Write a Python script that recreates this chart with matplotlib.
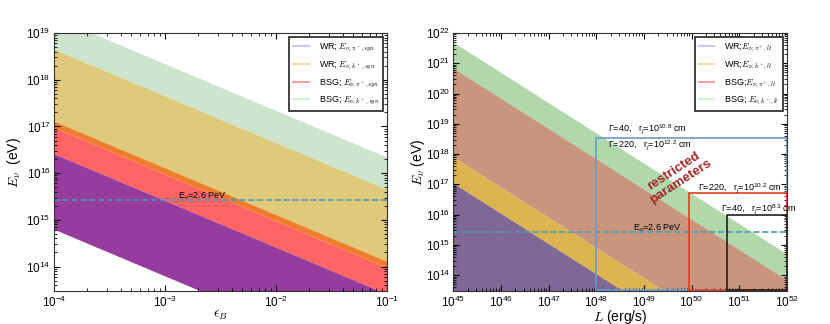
import numpy as np
import matplotlib
matplotlib.use('Agg')
import matplotlib.pyplot as plt
from matplotlib.lines import Line2D

# ---- data: band edges at the two ends of each x-range ----
eps_B = [1e-4, 1e-1]
syn_green_top = [2.2e19, 2.2e16]
syn_yellow_top = [4.5e18, 4.5e15]
syn_orange_top = [1.3e17, 1.3e14]
syn_red_top = [9.5e16, 9.5e13]
syn_purple_top = [2.6e16, 2.6e13]
syn_purple_bot = [6.3e14, 6.3e11]

L = [1e45, 1e52]
lt_green_top = [5e21, 5e14]
lt_brown_top = [7e20, 7e13]
lt_yellow_top = [8e17, 8e10]
lt_purple_top = [1.1e17, 1.1e10]
lt_floor = [1e10, 1e10]

E_ic = 2.6e15

left_labels = [r'WR; $E_{\nu,\pi^+,syn}$', r'WR; $E_{\nu,k^+,syn}$',
               r'BSG; $E_{\nu,\pi^+,syn}$', r'BSG; $E_{\nu,k^+,syn}$']
right_labels = [r'WR;$E_{\nu,\pi^+,lt}$', r'WR;$E_{\nu,k^+,lt}$',
                r'BSG;$E_{\nu,\pi^+,lt}$', r'BSG; $E_{\nu,k^+,lt}$']
legend_colors = ['#c8c8f0', '#f5dca8', '#f5a0a0', '#d8ead8']

# boxes: (x0, x1, y_top)
boxes = [(1e48, 1e52, 3.5e18, '#6a9ad0'),
         (9e49, 1e52, 5e16, '#e83a20'),
         (5.5e50, 1e52, 9.5e15, '#202020')]

plt.rcParams['font.family'] = 'Liberation Sans'
plt.rcParams['mathtext.fontset'] = 'custom'
plt.rcParams['mathtext.rm'] = 'Liberation Sans'
plt.rcParams['mathtext.it'] = 'Liberation Sans:italic'
plt.rcParams['mathtext.bf'] = 'Liberation Sans:bold'

fig = plt.figure(figsize=(8.3, 3.24), dpi=100)
ax1 = fig.add_axes([0.065, 0.102, 0.401, 0.796])
ax2 = fig.add_axes([0.546, 0.102, 0.402, 0.796])

# left panel
ax1.fill_between(eps_B, syn_yellow_top, syn_green_top, color='#cde5cd', lw=0)
ax1.fill_between(eps_B, syn_orange_top, syn_yellow_top, color='#dfc97a', lw=0)
ax1.fill_between(eps_B, syn_red_top, syn_orange_top, color='#ef7d2c', lw=0)
ax1.fill_between(eps_B, syn_purple_top, syn_red_top, color='#ff6464', lw=0)
ax1.fill_between(eps_B, syn_purple_bot, syn_purple_top, color='#963c9e', lw=0)
ax1.axhline(E_ic, color='#4a9ab8', ls='--', lw=1.2)
ax1.text(1.3e-3, 2.9e15, r'E$_\nu$=2.6 PeV', fontsize=6.5)
ax1.set_xscale('log')
ax1.set_yscale('log')
ax1.set_xlim(1e-4, 1e-1)
ax1.set_ylim(3e13, 1e19)
ax1.set_xlabel(r'$\epsilon_B$', fontsize=10, labelpad=-1.5, math_fontfamily='cm')
ax1.set_ylabel(r'$E_\nu$  (eV)', fontsize=10, labelpad=2, math_fontfamily='cm')

# right panel
ax2.fill_between(L, lt_brown_top, lt_green_top, color='#b0d8a8', lw=0)
ax2.fill_between(L, lt_yellow_top, lt_brown_top, color='#c8967c', lw=0)
ax2.fill_between(L, lt_purple_top, lt_yellow_top, color='#dcb450', lw=0)
ax2.fill_between(L, lt_floor, lt_purple_top, color='#7f6895', lw=0)
ax2.axhline(E_ic, color='#4a9ab8', ls='--', lw=1.2)
ax2.text(6e48, 2.9e15, r'E$_\nu$=2.6 PeV', fontsize=6.5)
for x0, x1, ytop, c in boxes:
    ax2.plot([x0, x0, x1, x1, x0], [3.15e13, ytop, ytop, 3.15e13, 3.15e13],
             color=c, lw=1.2, clip_on=False)
ax2.text(1.8e48, 5.6e18, '\u0393=40,   r$_j$=10$^{10.8}$ cm', fontsize=6.5)
ax2.text(1.8e48, 1.6e18, '\u0393=220,   r$_j$=10$^{12.2}$ cm', fontsize=6.5)
ax2.text(1.4e50, 6.5e16, '\u0393=220,   r$_j$=10$^{10.2}$ cm', fontsize=6.5)
ax2.text(4.2e50, 1.25e16, '\u0393=40,   r$_j$=10$^{8.3}$ cm', fontsize=6.5)
ax2.text(5e49, 1.8e17, 'restricted\nparameters', fontsize=9.5, color='#a02828',
         fontweight='bold', rotation=33, ha='center', va='center',
         linespacing=1.0)
ax2.set_xscale('log')
ax2.set_yscale('log')
ax2.set_xlim(1e45, 1e52)
ax2.set_ylim(3e13, 1e22)
ax2.set_xlabel(r'$L$ (erg/s)', fontsize=10, labelpad=-1.5, math_fontfamily='cm')
ax2.set_ylabel(r'$E_\nu$ (eV)', fontsize=10, labelpad=-1, math_fontfamily='cm')

for ax, labels in [(ax1, left_labels), (ax2, right_labels)]:
    ax.tick_params(which='both', direction='in', top=True, right=True,
                   labelsize=8.5, pad=2.5)
    ax.tick_params(which='major', length=4)
    ax.tick_params(which='minor', length=2)
    for s in ax.spines.values():
        s.set_color('#333333')
    handles = [Line2D([], [], color=c, lw=1.5) for c in legend_colors]
    leg = ax.legend(handles, labels, loc='upper right',
                    prop={'size': 6.5, 'math_fontfamily': 'cm'},
                    fancybox=False, framealpha=1, handlelength=1.7,
                    labelspacing=0.55, borderpad=0.45, handletextpad=1.1,
                    borderaxespad=0.2, bbox_to_anchor=(0.995, 0.99))
    leg.get_frame().set_edgecolor('#333333')
    leg.get_frame().set_linewidth(1.3)

fig.savefig('out.png', dpi=100)
